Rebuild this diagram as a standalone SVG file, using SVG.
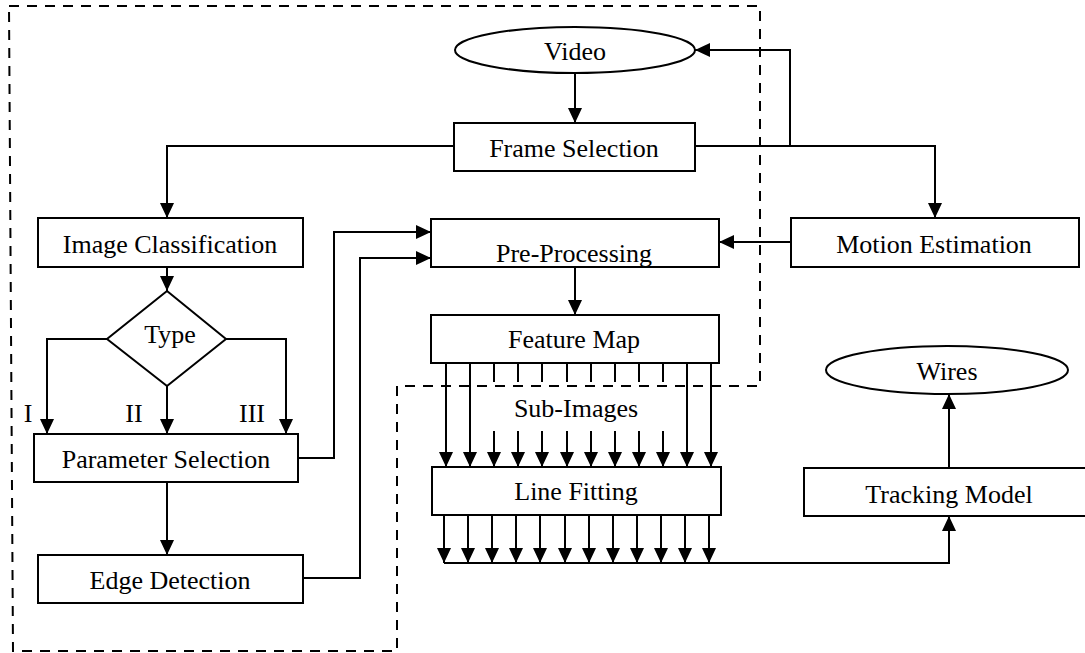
<svg xmlns="http://www.w3.org/2000/svg" width="1085" height="653" viewBox="0 0 1085 653">
<style>
.box{fill:#fff;stroke:#000;stroke-width:2}
.t{font-family:"Liberation Serif","Times New Roman",serif;font-size:26px;fill:#000;text-anchor:middle}
.c{fill:none;stroke:#000;stroke-width:2}
.a{marker-end:url(#arr)}
.dash{fill:none;stroke:#000;stroke-width:2;stroke-dasharray:10 8}
</style>
<defs>
<marker id="arr" markerUnits="userSpaceOnUse" markerWidth="15" markerHeight="14" refX="15" refY="7" orient="auto">
<path d="M0,0 L15,7 L0,14 z" fill="#000"/>
</marker>
</defs>
<rect width="1085" height="653" fill="#fff"/>
<g id="boundary">
<polyline class="dash" points="9,6 760,6 760,386 397,386 397,651 13,651 9,6"/>
</g>
<g id="connectors">
<path class="c a" d="M575,73 L575,123"/>
<path class="c a" d="M454,146 L167,146 L167,218"/>
<path class="c a" d="M695,146 L935,146 L935,218"/>
<path class="c a" d="M790,146 L790,50 L695,50"/>
<path class="c a" d="M791,242 L719,242"/>
<path class="c a" d="M167,267 L167,291"/>
<path class="c a" d="M107,339 L47,339 L47,434"/>
<path class="c a" d="M167,386 L167,434"/>
<path class="c a" d="M226,339 L286,339 L286,434"/>
<path class="c a" d="M298,458 L334,458 L334,232 L431,232"/>
<path class="c a" d="M303,578 L360,578 L360,258 L431,258"/>
<path class="c a" d="M167,482 L167,555"/>
<path class="c a" d="M575,267 L575,315"/>
<path class="c a" d="M446,363 L446,467"/>
<path class="c a" d="M470,363 L470,467"/>
<path class="c" d="M494,363 V382 M518,363 V382 M542,363 V382 M567,363 V382 M591,363 V382 M615,363 V382 M639,363 V382 M663,363 V382"/>
<path class="c a" d="M494,431 L494,467"/>
<path class="c a" d="M518,431 L518,467"/>
<path class="c a" d="M542,431 L542,467"/>
<path class="c a" d="M567,431 L567,467"/>
<path class="c a" d="M591,431 L591,467"/>
<path class="c a" d="M615,431 L615,467"/>
<path class="c a" d="M639,431 L639,467"/>
<path class="c a" d="M663,431 L663,467"/>
<path class="c a" d="M687,363 L687,467"/>
<path class="c a" d="M711,363 L711,467"/>
<path class="c a" d="M444,515 L444,563"/>
<path class="c a" d="M468,515 L468,563"/>
<path class="c a" d="M492,515 L492,563"/>
<path class="c a" d="M516,515 L516,563"/>
<path class="c a" d="M540,515 L540,563"/>
<path class="c a" d="M565,515 L565,563"/>
<path class="c a" d="M589,515 L589,563"/>
<path class="c a" d="M613,515 L613,563"/>
<path class="c a" d="M637,515 L637,563"/>
<path class="c a" d="M661,515 L661,563"/>
<path class="c a" d="M685,515 L685,563"/>
<path class="c a" d="M709,515 L709,563"/>
<path class="c a" d="M444,563 L949,563 L949,516"/>
<path class="c a" d="M949,468 L949,394"/>
<text class="t" x="28" y="422">I</text>
<text class="t" x="134" y="422">II</text>
<text class="t" x="252" y="422">III</text>
<text class="t" x="576" y="417">Sub-Images</text>
</g>
<g id="video">
<ellipse class="box" cx="575" cy="50" rx="120" ry="23"/>
<text class="t" x="575" y="60">Video</text>
</g>
<g id="frame-selection">
<rect class="box" x="454" y="123" width="241" height="48"/>
<text class="t" x="574" y="157">Frame Selection</text>
</g>
<g id="image-classification">
<rect class="box" x="38" y="218" width="265" height="49"/>
<text class="t" x="170" y="253">Image Classification</text>
</g>
<g id="type">
<polygon class="box" points="167,291 226,339 167,386 107,339"/>
<text class="t" x="170" y="343">Type</text>
</g>
<g id="parameter-selection">
<rect class="box" x="34" y="434" width="264" height="48"/>
<text class="t" x="166" y="468">Parameter Selection</text>
</g>
<g id="edge-detection">
<rect class="box" x="38" y="555" width="265" height="48"/>
<text class="t" x="170" y="589">Edge Detection</text>
</g>
<g id="pre-processing">
<rect class="box" x="431" y="219" width="288" height="48"/>
<text class="t" x="574" y="262">Pre-Processing</text>
</g>
<g id="motion-estimation">
<rect class="box" x="791" y="218" width="288" height="49"/>
<text class="t" x="934" y="253">Motion Estimation</text>
</g>
<g id="feature-map">
<rect class="box" x="431" y="315" width="288" height="48"/>
<text class="t" x="574" y="348">Feature Map</text>
</g>
<g id="line-fitting">
<rect class="box" x="432" y="467" width="289" height="48"/>
<text class="t" x="576" y="500">Line Fitting</text>
</g>
<g id="tracking-model">
<rect class="box" x="804" y="468" width="290" height="48"/>
<text class="t" x="949" y="503">Tracking Model</text>
</g>
<g id="wires">
<ellipse class="box" cx="947" cy="370" rx="121" ry="24"/>
<text class="t" x="947" y="380">Wires</text>
</g>
</svg>
